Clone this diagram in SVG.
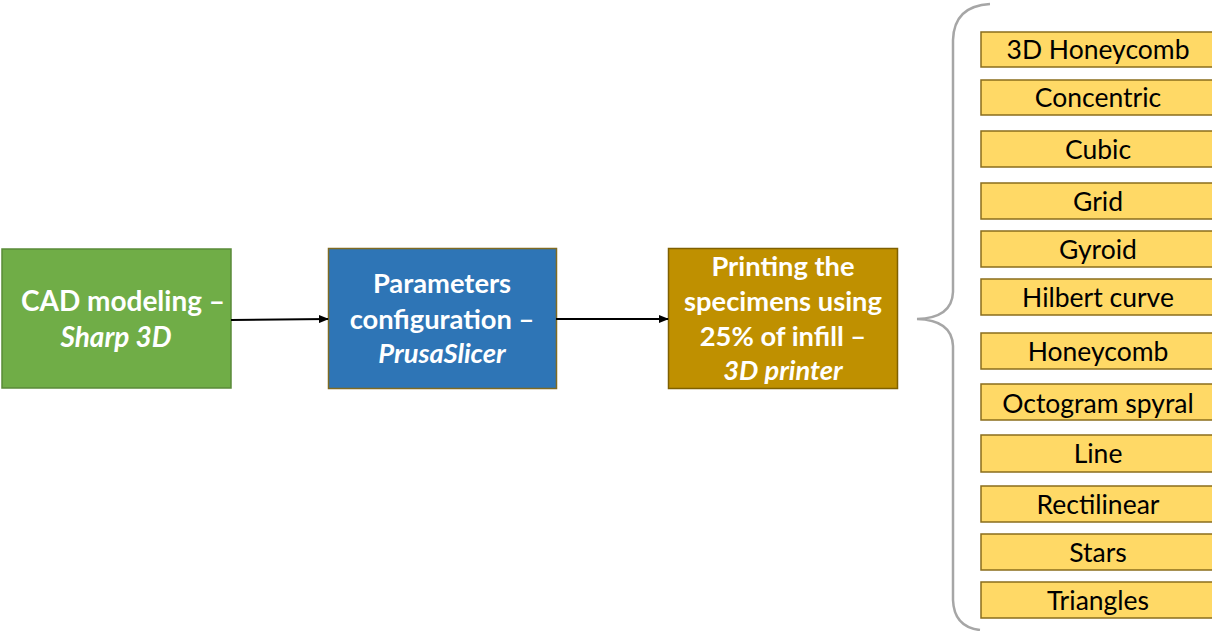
<svg xmlns="http://www.w3.org/2000/svg" width="1212" height="631" viewBox="0 0 1212 631">
<style>
.step{stroke-width:1.5}
.st{font-family:Lato,"Liberation Sans",sans-serif;font-weight:bold;font-size:27.3px;fill:#ffffff;text-anchor:middle}
.big{font-size:28px}
.it{font-style:italic}
.opt rect{fill:#ffd966;stroke:#8a6d1c;stroke-width:1.5}
.opt text{font-family:Lato,"Liberation Sans",sans-serif;font-size:26.5px;fill:#000;text-anchor:middle}
.conn{stroke:#000;stroke-width:2;fill:none}
</style>
<defs>
<marker id="ah" markerWidth="10" markerHeight="8" refX="9" refY="4" orient="auto" markerUnits="userSpaceOnUse">
<path d="M0,0 L10,4 L0,8 z" fill="#000"/>
</marker>
</defs>
<rect width="1212" height="631" fill="#fff"/>
<g id="cad">
<rect class="step" x="2" y="249" width="229" height="139" fill="#70ad47" stroke="#5a8a38"/>
<text class="st big" x="123" y="311">CAD modeling –</text>
<text class="st big it" x="116" y="347">Sharp 3D</text>
</g>
<g id="params">
<rect class="step" x="328.5" y="248.5" width="228" height="140" fill="#2e75b6" stroke="#7f6a22"/>
<text class="st" x="442" y="293">Parameters</text>
<text class="st" x="442" y="329">configuration –</text>
<text class="st it" x="442" y="363">PrusaSlicer</text>
</g>
<g id="printing">
<rect class="step" x="668.5" y="248.5" width="229" height="140" fill="#bf9000" stroke="#7f6000"/>
<text class="st" x="783" y="276">Printing the</text>
<text class="st" x="783" y="311">specimens using</text>
<text class="st" x="783" y="346">25% of infill –</text>
<text class="st it" x="783" y="380">3D printer</text>
</g>
<g id="connectors">
<line class="conn" x1="231" y1="320" x2="328" y2="319" marker-end="url(#ah)"/>
<line class="conn" x1="556" y1="319" x2="668" y2="319" marker-end="url(#ah)"/>
</g>
<g id="brace">
<path d="M990,4 Q954,6 953,40 L953,292 Q952,318 917,319 Q952,320 953,346 L953,600 Q954,627 980,630" fill="none" stroke="#a6a6a6" stroke-width="2.5"/>
</g>
<g id="options" class="opt">
<g id="opt1"><rect x="981" y="32" width="240" height="35"/><text x="1098" y="59">3D Honeycomb</text></g>
<g id="opt2"><rect x="981" y="80" width="240" height="35"/><text x="1098" y="107">Concentric</text></g>
<g id="opt3"><rect x="981" y="131" width="240" height="36"/><text x="1098" y="159">Cubic</text></g>
<g id="opt4"><rect x="981" y="183" width="240" height="36"/><text x="1098" y="211">Grid</text></g>
<g id="opt5"><rect x="981" y="231" width="240" height="36"/><text x="1098" y="259">Gyroid</text></g>
<g id="opt6"><rect x="981" y="279" width="240" height="36"/><text x="1098" y="307">Hilbert curve</text></g>
<g id="opt7"><rect x="981" y="333" width="240" height="36"/><text x="1098" y="361">Honeycomb</text></g>
<g id="opt8"><rect x="981" y="384" width="240" height="36"/><text x="1098" y="413">Octogram spyral</text></g>
<g id="opt9"><rect x="981" y="435" width="240" height="37"/><text x="1098" y="463">Line</text></g>
<g id="opt10"><rect x="981" y="486" width="240" height="36"/><text x="1098" y="514">Rectilinear</text></g>
<g id="opt11"><rect x="981" y="534" width="240" height="36"/><text x="1098" y="562">Stars</text></g>
<g id="opt12"><rect x="981" y="582" width="240" height="36"/><text x="1098" y="610">Triangles</text></g>
</g>
</svg>
